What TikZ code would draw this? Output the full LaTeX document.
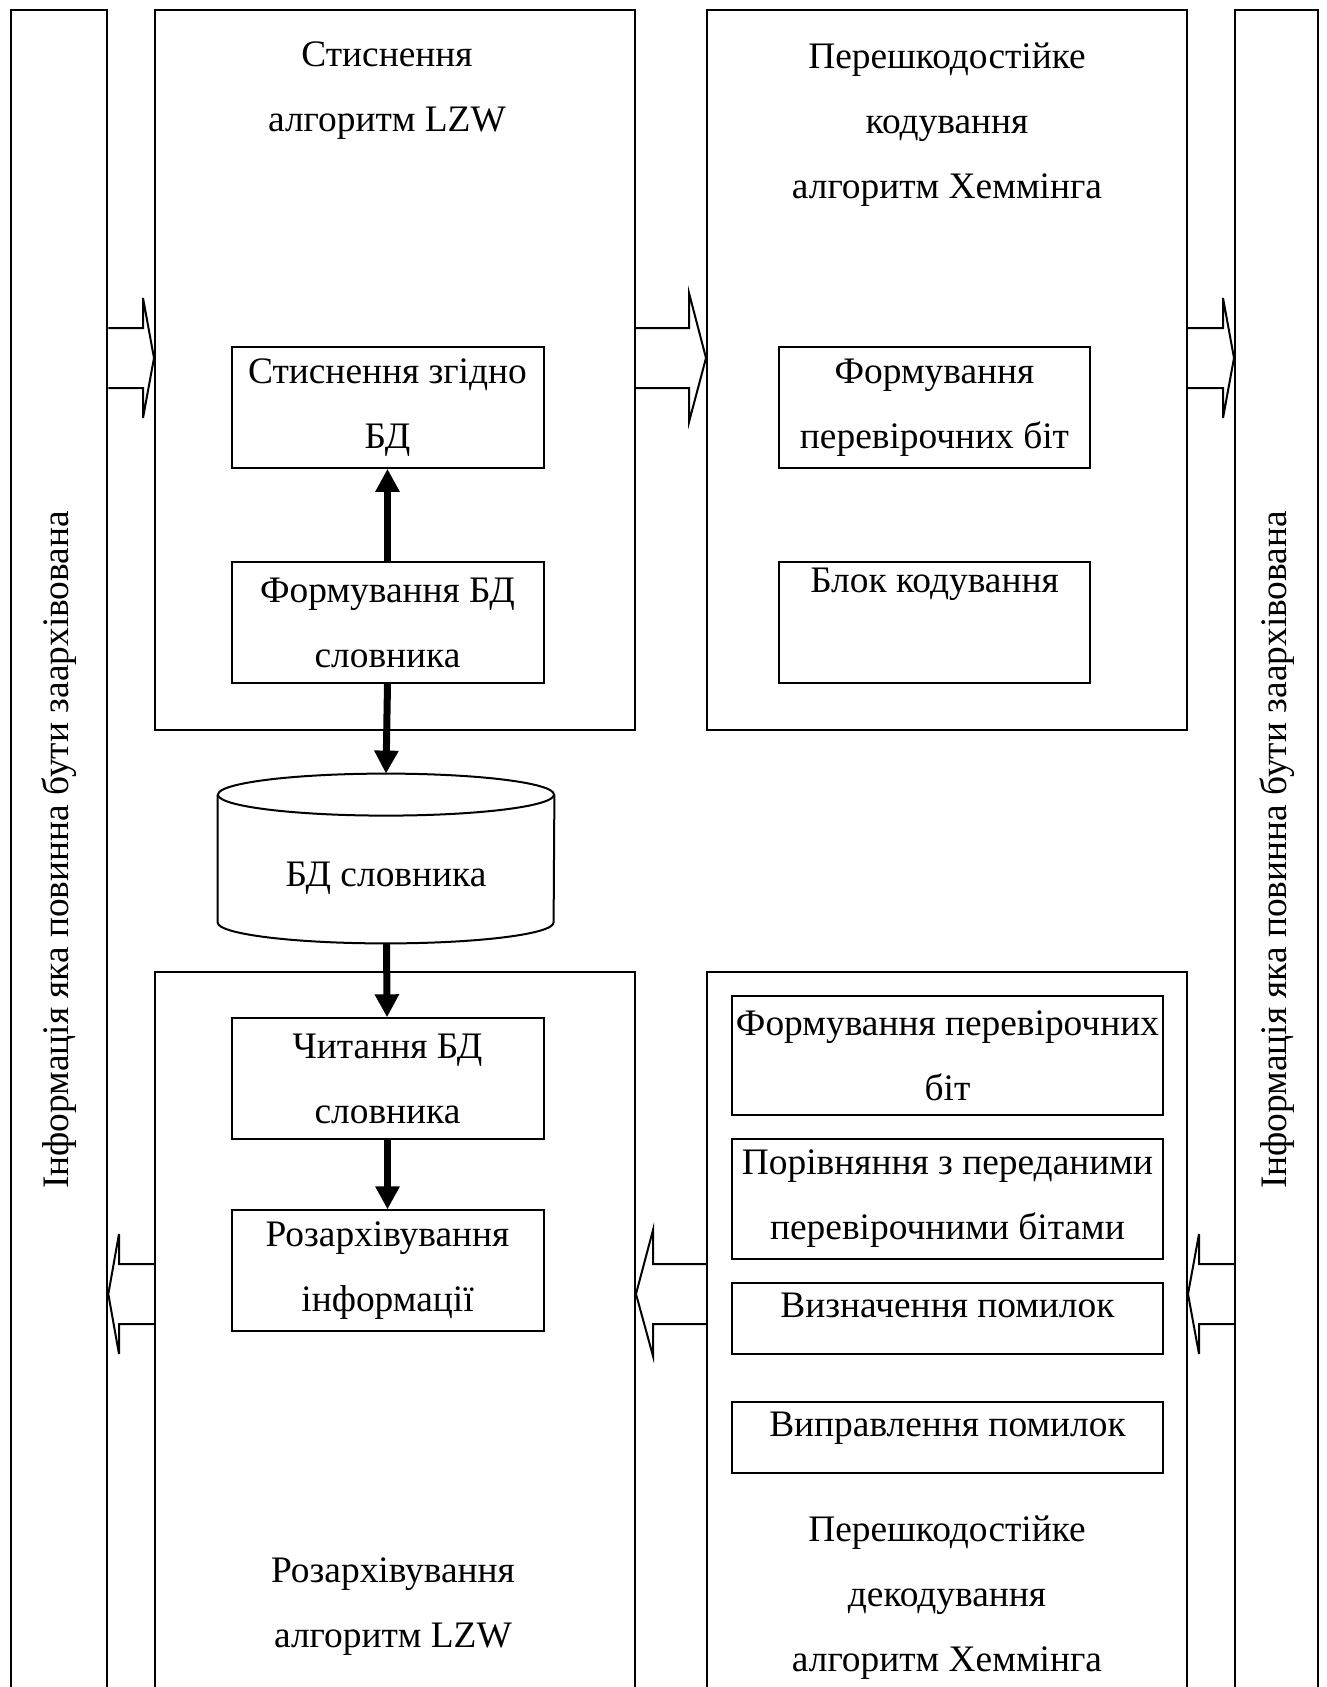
\documentclass[tikz,border=0pt]{standalone}
\usepackage{fontspec}
\setmainfont{Liberation Serif}
\usetikzlibrary{arrows.meta}

\begin{document}
\begin{tikzpicture}[x=0.5pt, y=-0.5pt, >={Triangle[length=11.5pt,width=11.5pt]}]
    \tikzstyle{txt} = [font=\fontsize{18.7pt}{32.5pt}\selectfont, align=center,
	inner sep=0pt]
    \tikzstyle{frame} = [draw, line width=1pt, inner sep=0pt, minimum width=240pt]
    \tikzstyle{side} = [draw, line width=1pt, inner sep=0pt, minimum height=840pt]
    \tikzstyle{blk} = [txt, draw, line width=1pt, minimum width=156pt,
	minimum height=60.5pt]
    \tikzstyle{wide} = [txt, draw, line width=1pt, minimum width=215.75pt]
    \tikzstyle{flow} = [->, line width=3.5pt]
    \tikzstyle{hollowarr} = [line width=1pt, line join=miter]
    \useasboundingbox (0,0) rectangle (1327,1687);
    % outer blocks
    \node[side, minimum width=48.15pt] (inL) at (59.15,850) {};
    \node[side, minimum width=41.65pt] (inR) at (1276.65,850) {};
    \node[frame, minimum height=359.8pt] (comp) at (395,369.8) {};
    \node[frame, minimum height=359.8pt] (code) at (947,369.8) {};
    \node[frame, minimum height=359pt] (decomp) at (395,1331) {};
    \node[frame, minimum height=359pt] (decode) at (947,1331) {};
    \node[txt, rotate=90] (inLT) at (inL) {Інформація яка повинна бути заархівована};
    \node[txt, rotate=90] (inRT) at (inR) {Інформація яка повинна бути заархівована};
    \node[txt] (compT) at (387,90.5) {Стиснення\\алгоритм LZW};
    \node[txt] (codeT) at (947,125) {Перешкодостійке\\кодування\\алгоритм Хеммінга};
    \node[txt] (decompT) at (393,1606.5) {Розархівування\\алгоритм LZW};
    \node[txt] (decodeT) at (947,1597.5) {Перешкодостійке\\декодування\\алгоритм Хеммінга};
    % inner blocks
    \node[blk] (squeeze) at (387.5,407.3) {Стиснення згідно\\БД};
    \node[blk] (buildDict) at (387.5,622.6) {Формування БД\\словника};
    \node[blk, minimum width=155.5pt] (chkBits) at (934.5,407.3) {Формування\\перевірочних біт};
    \node[blk, minimum width=155.5pt] (encBlk) at (934.5,622.6) {Блок кодування\\\strut};
    \node[blk] (readDict) at (387.5,1078.8) {Читання БД\\словника};
    \node[blk] (unpack) at (387.5,1270.9) {Розархівування\\інформації};
    \node[wide, minimum height=59.75pt] (chkBits2) at (947.5,1055.3) {Формування перевірочних\\біт};
    \node[wide, minimum height=60.2pt] (compare) at (947.5,1198.8) {Порівняння з переданими\\перевірочними бітами};
    \node[wide, minimum height=35.5pt, text height=13pt, text depth=14pt] (detect) at (947.5,1318.4) {Визначення помилок};
    \node[wide, minimum height=35.5pt, text height=13pt, text depth=14pt] (fix) at (947.5,1437.8) {Виправлення помилок};
    % dictionary database
    \node[txt, minimum width=168pt, minimum height=74pt, text height=21.5pt,
	text depth=4.5pt] (db) at (386,869) {БД словника};
    \draw[line width=1pt] (db.north) ellipse [x radius=84pt, y radius=10.5pt];
    \draw[line width=1pt] (db.north west) -- ([yshift=10.5pt]db.south west)
	arc[start angle=180, end angle=360, x radius=84pt, y radius=10.5pt]
	-- (db.north east);
    \path[flow]
	(buildDict) edge (squeeze)
	(buildDict.south) edge ([yshift=10.5pt]db.north)
	(db) edge (readDict)
	(readDict) edge (unpack);
    % wide hollow arrows
    \draw[hollowarr] (inL.east |- 0,328) -- (143,328) -- (143,298) -- (comp.west |- 0,358)
	-- (143,418) -- (143,388) -- (inL.east |- 0,388);
    \draw[hollowarr] (comp.east |- 0,328) -- (689,328) -- (689,293) -- (code.west |- 0,358)
	-- (689,422) -- (689,388) -- (comp.east |- 0,388);
    \draw[hollowarr] (code.east |- 0,328) -- (1223,328) -- (1223,298) -- (inR.west |- 0,358)
	-- (1223,418) -- (1223,388) -- (code.east |- 0,388);
    \draw[hollowarr] (decomp.west |- 0,1264) -- (119,1264) -- (119,1234) -- (inL.east |- 0,1294)
	-- (119,1354) -- (119,1324) -- (decomp.west |- 0,1324);
    \draw[hollowarr] (decode.west |- 0,1264) -- (653,1264) -- (653,1230) -- (decomp.east |- 0,1294)
	-- (653,1356) -- (653,1324) -- (decode.west |- 0,1324);
    \draw[hollowarr] (inR.west |- 0,1264) -- (1199,1264) -- (1199,1234) -- (decode.east |- 0,1294)
	-- (1199,1354) -- (1199,1324) -- (inR.west |- 0,1324);
\end{tikzpicture}
\end{document}
